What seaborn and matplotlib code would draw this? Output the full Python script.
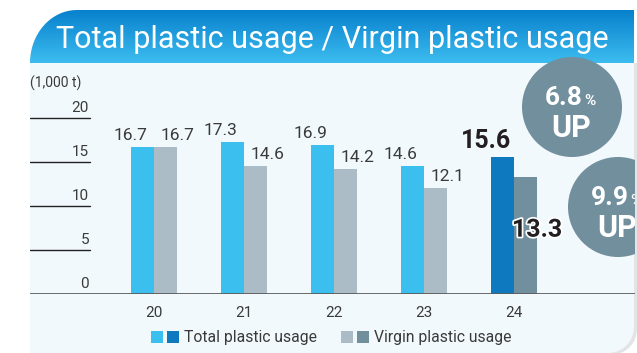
import numpy as np
import pandas as pd
import matplotlib
matplotlib.use("Agg")
import matplotlib.pyplot as plt
import matplotlib.patheffects as pe
from matplotlib.patches import Rectangle, Circle, PathPatch
from matplotlib.path import Path
import seaborn as sns

# ---- data -------------------------------------------------------------
years = ["20", "21", "22", "23", "24"]
total_usage = [16.7, 17.3, 16.9, 14.6, 15.6]
virgin_usage = [16.7, 14.6, 14.2, 12.1, 13.3]
series_names = ["Total plastic usage", "Virgin plastic usage"]
y_ticks = [0, 5, 10, 15, 20]
unit_label = "(1,000 t)"
title = "Total plastic usage / Virgin plastic usage"
badges = [("6.8", "%", "UP"), ("9.9", "%", "UP")]

# ---- style ------------------------------------------------------------
sns.set_theme(style="white")
plt.rcParams["font.family"] = ["Roboto", "DejaVu Sans"]

TOTAL_LIGHT = "#3bbfee"
TOTAL_DARK = "#0e79be"
VIRGIN_LIGHT = "#abbcc6"
VIRGIN_DARK = "#728f9e"
PANEL = "#f2f9fd"
TEXT = "#3a3a3a"
BADGE = "#728f9e"

W, H = 637, 353
fig = plt.figure(figsize=(W / 100, H / 100), dpi=100)
fig.patch.set_facecolor("white")

# background layer in pixel coordinates
bg = fig.add_axes([0, 0, 1, 1])
bg.set_xlim(0, W)
bg.set_ylim(H, 0)
bg.axis("off")

L, R, T, HB = 30, 634, 10, 63  # panel left/right, title top/bottom


def rounded_body(x0, x1, y0, y1, r):
    """Rectangle path with a rounded lower-right corner."""
    t = np.linspace(0, np.pi / 2, 20)
    pts = [(x0, y0), (x1, y0), (x1, y1 - r)]
    pts += [(x1 - r + r * np.cos(a), y1 - r + r * np.sin(a)) for a in t]
    pts += [(x0, y1)]
    return Path(pts + [pts[0]], closed=True)


# soft shadow and light panel body
bg.add_patch(PathPatch(rounded_body(L + 3, R + 3, HB, H + 2, 26), fc="#e2e4e6", ec="none"))
bg.add_patch(PathPatch(rounded_body(L, R, HB, H, 26), fc=PANEL, ec="none"))

# title bar with rounded upper-left corner and vertical gradient
rx, ry = 47, 53
t = np.linspace(np.pi, 1.5 * np.pi, 30)
arc = [(L + rx + rx * np.cos(a), HB + ry * np.sin(a)) for a in t]
title_path = Path([(L, HB)] + arc + [(R, T), (R, HB), (L, HB)], closed=True)
grad = np.linspace(0, 1, 64).reshape(-1, 1)
cmap = matplotlib.colors.LinearSegmentedColormap.from_list("tb", ["#0881cd", "#3cbcef"])
im = bg.imshow(grad, cmap=cmap, extent=(L, R, HB, T), aspect="auto", zorder=1)
clip = PathPatch(title_path, transform=bg.transData, fc="none", ec="none")
bg.add_patch(clip)
im.set_clip_path(clip)
bg.set_xlim(0, W)
bg.set_ylim(H, 0)
bg.text(332, 40, title, color="white", fontsize=22,
        ha="center", va="center", zorder=2)

# unit label
bg.text(L, 83, unit_label, color=TEXT, fontsize=10, ha="left", va="center")

# legend
legend_items = [
    (151, TOTAL_LIGHT, TOTAL_DARK, series_names[0]),
    (341, VIRGIN_LIGHT, VIRGIN_DARK, series_names[1]),
]
for x0, c1, c2, name in legend_items:
    bg.add_patch(Rectangle((x0, 331), 12, 12, fc=c1, ec="none"))
    bg.add_patch(Rectangle((x0 + 16, 331), 12, 12, fc=c2, ec="none"))
    bg.text(x0 + 33, 337.5, name, color=TEXT, fontsize=11.3, ha="left", va="center")

# ---- main chart -------------------------------------------------------
base_px, top_px = 294, HB
px_per_unit = 8.8
ax = fig.add_axes([L / W, (H - base_px) / H, (R + 1 - L) / W, (base_px - top_px) / H])
ax.patch.set_alpha(0)

df = pd.DataFrame({
    "year": years * 2,
    "series": [series_names[0]] * len(years) + [series_names[1]] * len(years),
    "value": total_usage + virgin_usage,
})
sns.barplot(data=df, x="year", y="value", hue="series", order=years,
            hue_order=series_names, palette=[TOTAL_LIGHT, VIRGIN_LIGHT],
            width=0.51, saturation=1, legend=False, ax=ax, errorbar=None)

total_bars = ax.containers[0]
virgin_bars = ax.containers[1]
total_bars[-1].set_facecolor(TOTAL_DARK)
virgin_bars[-1].set_facecolor(VIRGIN_DARK)
for b in list(total_bars) + list(virgin_bars):
    b.set_edgecolor("none")

ax.set_ylim(0, (base_px - top_px) / px_per_unit)
ax.set_xlim((L - 154) / 90, (R + 1 - 154) / 90)
for s in ax.spines.values():
    s.set_visible(False)
ax.set_xlabel("")
ax.set_ylabel("")
ax.set_yticks([])
ax.tick_params(axis="x", length=0, pad=8.5, labelsize=11, labelcolor=TEXT)

# baseline and short tick rules on the left
ax.axhline(0, color="#5c5c5c", lw=2, zorder=3)
rule_end = (90 - L) / (R + 1 - L)
x_lab = (89 - 154) / 90
for v in y_ticks:
    if v > 0:
        ax.axhline(v, xmin=0, xmax=rule_end, color="#222222", lw=1)
    ax.annotate(str(v), xy=(x_lab, v), xytext=(0, 2.5), textcoords="offset points",
                ha="right", va="bottom", fontsize=11, color=TEXT)

# value labels
n = len(years)
for i in range(n):
    tb, vb = total_bars[i], virgin_bars[i]
    if i < n - 1:
        ax.annotate(f"{total_usage[i]:.1f}", xy=(tb.get_x() + tb.get_width(), total_usage[i]),
                    xytext=(-5, 5), textcoords="offset points", ha="right",
                    va="baseline", fontsize=12.5, color=TEXT)
        ax.annotate(f"{virgin_usage[i]:.1f}", xy=(vb.get_x(), virgin_usage[i]),
                    xytext=(4.5, 5), textcoords="offset points", ha="left",
                    va="baseline", fontsize=12.5, color=TEXT)
    else:
        ax.annotate(f"{total_usage[i]:.1f}", xy=(tb.get_x() + tb.get_width(), total_usage[i]),
                    xytext=(-2, 6.5), textcoords="offset points", ha="right",
                    va="baseline", fontsize=18, fontweight="bold", color="#231f20")
        ax.annotate(f"{virgin_usage[i]:.1f}", xy=(vb.get_x(), virgin_usage[i]),
                    xytext=(-1.5, -43), textcoords="offset points", ha="left",
                    va="baseline", fontsize=18, fontweight="bold", color="#231f20",
                    path_effects=[pe.withStroke(linewidth=2.5, foreground="white")])

# ---- growth badges ----------------------------------------------------
bd = fig.add_axes([0, 0, (R + 1) / W, 1])
bd.set_xlim(0, R + 1)
bd.set_ylim(H, 0)
bd.axis("off")
bd.patch.set_alpha(0)
badge_pos = [(572, 107), (618, 207)]
for (cx, cy), (num, pct, up) in zip(badge_pos, badges):
    bd.add_patch(Circle((cx, cy), 50, fc=BADGE, ec="none", clip_on=True))
    bd.text(cx + 11, cy - 2, num, color="white", fontsize=19, fontweight="bold",
            ha="right", va="baseline", clip_on=True)
    bd.text(cx + 12, cy - 2, pct, color="white", fontsize=11, fontweight="bold",
            ha="left", va="baseline", clip_on=True)
    bd.text(cx - 1, cy + 30, up, color="white", fontsize=22, fontweight="bold",
            ha="center", va="baseline", clip_on=True)

fig.savefig("out.png", dpi=100, facecolor="white")
